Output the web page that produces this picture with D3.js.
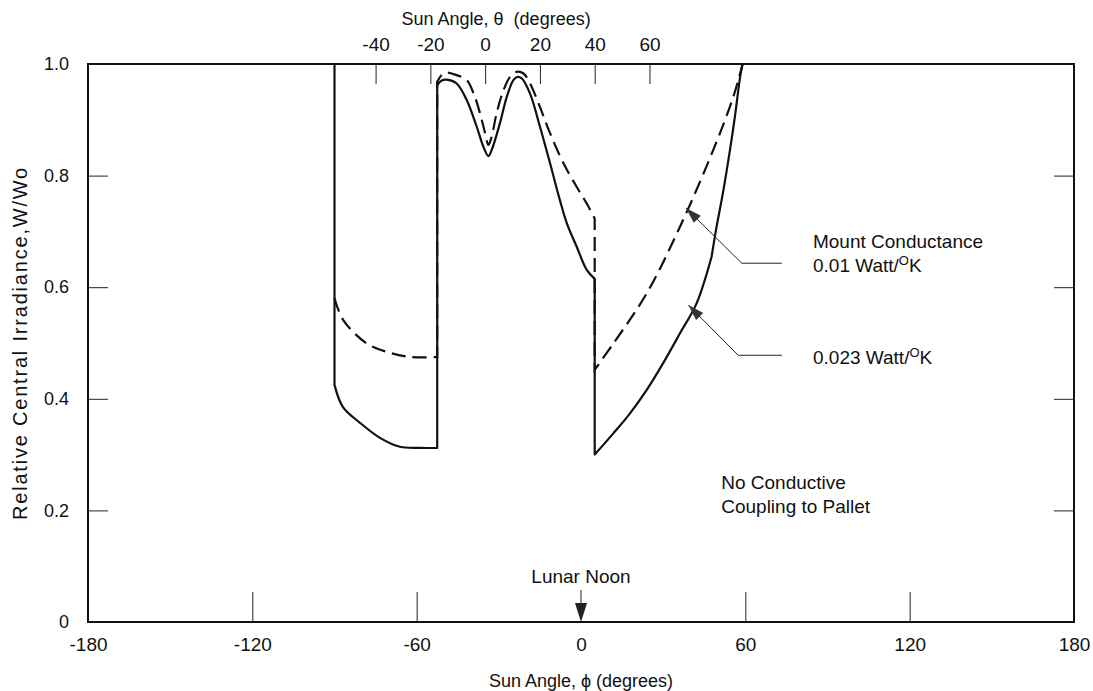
<!DOCTYPE html>
<html>
<head>
<meta charset="utf-8">
<script src="https://cdn.jsdelivr.net/npm/d3@7"></script>
<style>
  html, body { margin: 0; padding: 0; background: #fff; }
  svg text { font-family: "Liberation Sans", Arial, sans-serif; fill: #111; }
</style>
</head>
<body>
<svg id="chart"></svg>
<script>
// Chart Configuration
const W = 1093, H = 691;
const margin = { top: 64, right: 19, bottom: 69, left: 88 };
const width = W - margin.left - margin.right;
const height = H - margin.top - margin.bottom;

// ticks
const phiTicks = [-180, -120, -60, 0, 60, 120, 180];
const thetaTicks = [-40, -20, 0, 20, 40, 60];
const wTicks = [0, 0.2, 0.4, 0.6, 0.8, 1.0];

// 0.023 Watt/K curve (solid), [phi, W/Wo]
const solidTop = [[-90, 1.0], [-90, 0.425]];
const solidArc = [[-90, 0.425], [-86.9, 0.385], [-80.7, 0.357], [-73.4, 0.33], [-66.1, 0.314], [-58.8, 0.312], [-52.5, 0.312]];
const solidHump = [[-52.5, 0.962], [-51, 0.97], [-49, 0.972], [-45.4, 0.965], [-41.7, 0.935], [-38.1, 0.888],
  [-35.5, 0.85], [-33.8, 0.835], [-32.6, 0.846], [-29.6, 0.894], [-27.1, 0.941], [-24.7, 0.971], [-23.2, 0.977],
  [-21.6, 0.974], [-18.6, 0.947], [-15, 0.888], [-11.3, 0.822], [-7.7, 0.756], [-5.2, 0.715], [-1.6, 0.673],
  [2.1, 0.631], [5, 0.615]];
const solidRise = [[5, 0.3], [11.8, 0.338], [17.9, 0.374], [24, 0.416], [30, 0.464], [36.1, 0.517], [42.2, 0.571], [47.7, 0.655]];
const solidSteep = [[47.7, 0.655], [49.2, 0.7], [52, 0.774], [54.4, 0.846], [56.2, 0.906], [58.1, 0.977], [59, 1.0]];

// 0.01 Watt/K curve (dashed)
const dashArc = [[-90, 0.58], [-86.8, 0.541], [-78.2, 0.499], [-70.9, 0.484], [-62.4, 0.475], [-52.5, 0.475]];
const dashHump = [[-52.5, 0.968], [-50, 0.984], [-45.4, 0.98], [-41.7, 0.971], [-39.2, 0.947], [-36.9, 0.912],
  [-35, 0.876], [-33.8, 0.855], [-32.6, 0.87], [-30.8, 0.912], [-28.3, 0.953], [-25.9, 0.977], [-23.5, 0.986],
  [-21, 0.983], [-18.6, 0.965], [-15, 0.923], [-11.3, 0.876], [-6.4, 0.822], [-1.6, 0.78], [2.1, 0.75], [5, 0.723]];
const dashRise = [[5, 0.452], [11.8, 0.499], [24, 0.589], [36.1, 0.708], [48.3, 0.846], [55.6, 0.941], [59, 1.0]];

// annotation leaders: [tip, elbow, end] in [phi, W/Wo]
const leaderMount = [[38.3, 0.742], [58.7, 0.643], [73.3, 0.643]];
const leaderLow = [[39.2, 0.568], [57.4, 0.478], [73.3, 0.478]];

const svg = d3.select("#chart").attr("width", W).attr("height", H);
const g = svg.append("g").attr("transform", `translate(${margin.left},${margin.top})`);

const x = d3.scaleLinear().domain([-180, 180]).range([0, width]);
const y = d3.scaleLinear().domain([0, 1]).range([height, 0]);
// theta is offset from phi by 35 degrees
const xTheta = d3.scaleLinear().domain([-145, 215]).range([0, width]);

const fmt = (d) => (d === 0 ? "0" : d === 1 ? "1.0" : String(d));

// axes
const leftAxis = g.append("g").call(d3.axisLeft(y).tickValues(wTicks).tickSize(-20).tickPadding(19).tickFormat(fmt));
const rightAxis = g.append("g").attr("transform", `translate(${width},0)`)
  .call(d3.axisRight(y).tickValues(wTicks.slice(1, -1)).tickSize(-20).tickFormat(""));
const bottomAxis = g.append("g").attr("transform", `translate(0,${height})`)
  .call(d3.axisBottom(x).tickValues(phiTicks).tickSize(-30).tickPadding(16).tickFormat((d) => String(d)));
const topAxis = g.append("g")
  .call(d3.axisTop(xTheta).tickValues(thetaTicks).tickSize(-20).tickPadding(13).tickFormat((d) => String(d)));

[leftAxis, rightAxis, bottomAxis, topAxis].forEach((a) => {
  a.select(".domain").remove();
  a.selectAll(".tick line").attr("stroke", "#222").attr("stroke-width", 1);
  a.selectAll(".tick text").attr("fill", "#111").style("font-family", '"Liberation Sans", Arial, sans-serif');
});
leftAxis.selectAll(".tick text").style("font-size", "18px");
bottomAxis.selectAll(".tick text").style("font-size", "19px");
topAxis.selectAll(".tick text").style("font-size", "19px");
bottomAxis.selectAll(".tick").filter((d) => d === 0).select("line").remove();

// frame
g.append("rect").attr("width", width).attr("height", height)
  .attr("fill", "none").attr("stroke", "#111").attr("stroke-width", 2);

// curves
const line = d3.line().x((d) => x(d[0])).y((d) => y(d[1])).curve(d3.curveCatmullRom.alpha(0.5));
function joined(segs) {
  return segs.map((s, i) => (i === 0 ? line(s) : line(s).replace(/^M/, "L"))).join("");
}

g.append("path").attr("d", joined([solidTop, solidArc, solidHump, solidRise, solidSteep]))
  .attr("fill", "none").attr("stroke", "#111").attr("stroke-width", 2.2).attr("stroke-linejoin", "round");
g.append("path").attr("d", joined([dashArc, dashHump, dashRise]))
  .attr("fill", "none").attr("stroke", "#111").attr("stroke-width", 2.2).attr("stroke-dasharray", "14,7");

// leaders with arrowheads
function leader(pts) {
  const p = pts.map((d) => [x(d[0]), y(d[1])]);
  g.append("path").attr("d", d3.line()(p)).attr("fill", "none").attr("stroke", "#222").attr("stroke-width", 1);
  const [tx, ty] = p[0], [ex, ey] = p[1];
  const ang = Math.atan2(ey - ty, ex - tx), len = 16, half = 5;
  const bx = tx + len * Math.cos(ang), by = ty + len * Math.sin(ang);
  const head = [[tx, ty], [bx - half * Math.sin(ang), by + half * Math.cos(ang)], [bx + half * Math.sin(ang), by - half * Math.cos(ang)]];
  g.append("path").attr("d", d3.line()(head) + "Z").attr("fill", "#333");
}
leader(leaderMount);
leader(leaderLow);

// labels
function label(phi, w, parts, size) {
  const t = g.append("text").attr("x", x(phi)).attr("y", y(w)).style("font-size", size + "px");
  parts.forEach((p) => {
    if (p.sup) t.append("tspan").text(p.text).attr("dy", -7).style("font-size", "13px");
    else t.append("tspan").text(p.text).attr("dy", p.down ? 7 : 0);
  });
  return t;
}
label(84.7, 0.67, [{ text: "Mount Conductance" }], 19);
label(84.7, 0.628, [{ text: "0.01 Watt/" }, { text: "O", sup: true }, { text: "K", down: true }], 19);
label(84.7, 0.463, [{ text: "0.023 Watt/" }, { text: "O", sup: true }, { text: "K", down: true }], 19);
label(51.2, 0.238, [{ text: "No Conductive" }], 19);
label(51.2, 0.195, [{ text: "Coupling to Pallet" }], 19);

// Lunar Noon marker
g.append("text").attr("x", x(0)).attr("y", y(0) - 39).attr("text-anchor", "middle").style("font-size", "19px").text("Lunar Noon");
g.append("line").attr("x1", x(0)).attr("x2", x(0)).attr("y1", y(0) - 32).attr("y2", y(0) - 10)
  .attr("stroke", "#222").attr("stroke-width", 1);
g.append("path").attr("d", d3.line()([[x(0) - 6, y(0) - 19], [x(0) + 6, y(0) - 19], [x(0), y(0)]]) + "Z").attr("fill", "#222");

// axis titles
svg.append("text").attr("x", margin.left + xTheta(4)).attr("y", 25).attr("text-anchor", "middle")
  .style("font-size", "18px").attr("xml:space", "preserve").text("Sun Angle, \u03B8  (degrees)");
svg.append("text").attr("x", margin.left + x(0)).attr("y", 687).attr("text-anchor", "middle")
  .style("font-size", "18px").text("Sun Angle, \u03D5 (degrees)");
svg.append("text").attr("transform", `translate(27,${margin.top + y(0.5)}) rotate(-90)`).attr("text-anchor", "middle")
  .style("font-size", "20px").style("letter-spacing", "1.8px").text("Relative Central Irradiance,W/Wo");
</script>
</body>
</html>
